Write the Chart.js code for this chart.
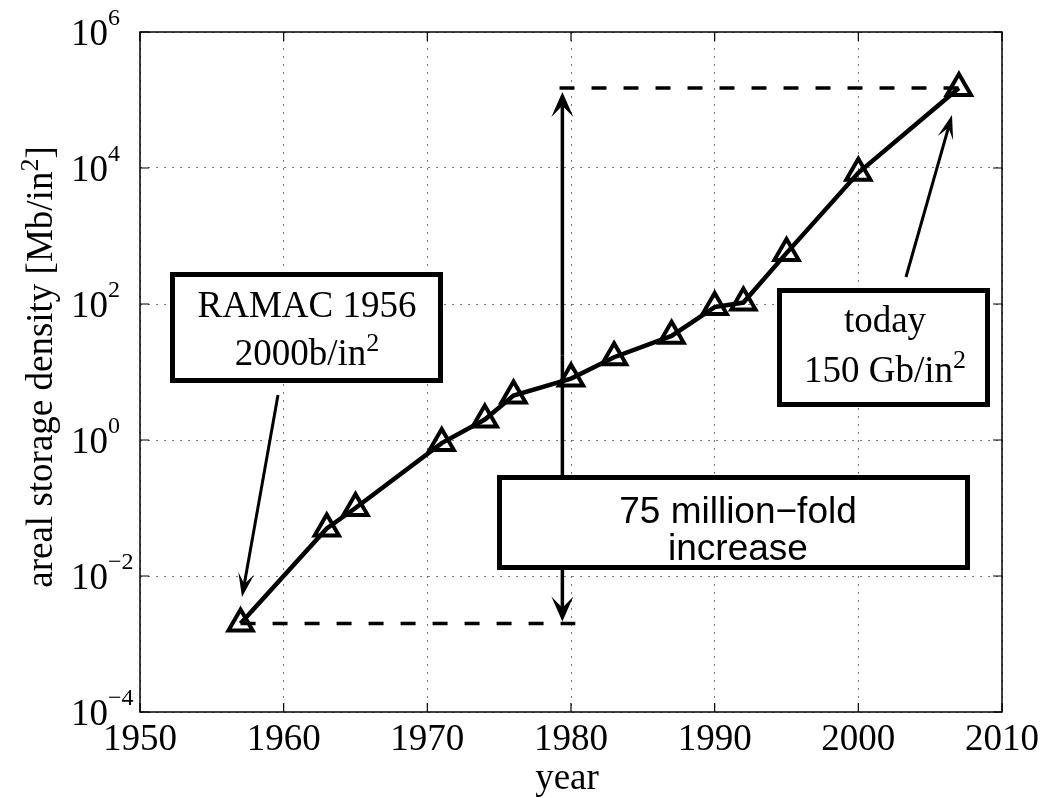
<!DOCTYPE html>
<html>
<head>
<meta charset="utf-8">
<title>Areal storage density</title>
<script src="https://cdn.jsdelivr.net/npm/chart.js@4.4.1/dist/chart.umd.min.js"></script>
<style>
    html, body { margin: 0; padding: 0; background: #fff; }
    #wrap { width: 1047px; height: 798px; }
</style>
</head>
<body>
<div id="wrap"><canvas id="densityChart" width="1047" height="798"></canvas></div>
<script>
// ============================================
// Areal storage density of hard disks, 1957 - 2007
// ============================================

// values (Mb/in^2)
const years = [1957, 1963, 1965, 1971, 1974, 1976, 1980, 1983, 1987, 1990, 1992, 1995, 2000, 2007];
const densities = [0.002, 0.05, 0.1, 0.9, 2, 4.5, 8, 16.5, 34, 90, 105, 560, 8500, 150000];

// axis ticks
const xTickValues = [1950, 1960, 1970, 1980, 1990, 2000, 2010];
const yTickExponents = [-4, -2, 0, 2, 4, 6];

// years where the "75 million-fold" span is drawn
const spanYear = 1979.4;
const lowDashEnd = 1980.3;
const highDashStart = 1979.2;

const SERIF = "'Liberation Serif', 'Times New Roman', serif";
const SANS = "'Liberation Sans', Arial, Helvetica, sans-serif";

// text with '^'-prefixed superscript parts
function richText(ctx, parts, x, y, o) {
    const main = `${o.size}px ${o.family}`;
    const sup = `${o.supSize}px ${o.family}`;
    let total = 0;
    const widths = parts.map(p => {
        ctx.font = p[0] === '^' ? sup : main;
        const w = ctx.measureText(p[0] === '^' ? p.slice(1) : p).width;
        total += w;
        return w;
    });
    let cx = o.align === 'left' ? x : x - total / 2;
    ctx.textAlign = 'left';
    ctx.textBaseline = 'alphabetic';
    ctx.fillStyle = '#000';
    parts.forEach((p, i) => {
        if (p[0] === '^') {
            ctx.font = sup;
            ctx.fillText(p.slice(1), cx, y - o.raise);
        } else {
            ctx.font = main;
            ctx.fillText(p, cx, y);
        }
        cx += widths[i];
    });
}

function arrow(ctx, x1, y1, x2, y2, lw, len, half) {
    const a = Math.atan2(y2 - y1, x2 - x1);
    ctx.save();
    ctx.strokeStyle = '#000';
    ctx.fillStyle = '#000';
    ctx.lineWidth = lw;
    ctx.beginPath();
    ctx.moveTo(x1, y1);
    ctx.lineTo(x2 - Math.cos(a) * len * 0.5, y2 - Math.sin(a) * len * 0.5);
    ctx.stroke();
    ctx.translate(x2, y2);
    ctx.rotate(a);
    ctx.beginPath();
    ctx.moveTo(0, 0);
    ctx.lineTo(-len, -half);
    ctx.lineTo(-len * 0.55, 0);
    ctx.lineTo(-len, half);
    ctx.closePath();
    ctx.fill();
    ctx.restore();
}

function textBox(ctx, b) {
    const lw = 5;
    ctx.save();
    ctx.fillStyle = '#fff';
    ctx.fillRect(b.x0, b.y0, b.x1 - b.x0, b.y1 - b.y0);
    ctx.lineWidth = lw;
    ctx.strokeStyle = '#000';
    ctx.strokeRect(b.x0 + lw / 2, b.y0 + lw / 2, b.x1 - b.x0 - lw, b.y1 - b.y0 - lw);
    b.lines.forEach(l => richText(ctx, l.parts, b.cx, l.y, b.font));
    ctx.restore();
}

const serifBoxFont = { family: SERIF, size: 37, supSize: 26, raise: 14 };
const sansBoxFont = { family: SANS, size: 37, supSize: 24, raise: 14 };

const annotations = {
    id: 'annotations',
    afterDatasetsDraw(chart) {
        const ctx = chart.ctx;
        const { x, y } = chart.scales;

        // double arrow spanning first to last value
        const ax = x.getPixelForValue(spanYear);
        const yLow = y.getPixelForValue(densities[0]);
        const yHigh = y.getPixelForValue(densities[densities.length - 1]);
        const yMid = (yLow + yHigh) / 2;
        arrow(ctx, ax, yMid, ax, yHigh + 4, 3.5, 25, 11);
        arrow(ctx, ax, yMid, ax, yLow - 2, 3.5, 25, 11);

        textBox(ctx, {
            x0: 497, y0: 475, x1: 970, y1: 570, cx: 738, font: sansBoxFont,
            lines: [{ y: 523, parts: ['75 million\u2212fold'] }, { y: 560, parts: ['increase'] }]
        });
        textBox(ctx, {
            x0: 170, y0: 272, x1: 443, y1: 383, cx: 307, font: serifBoxFont,
            lines: [{ y: 317, parts: ['RAMAC 1956'] }, { y: 365, parts: ['2000b/in', '^2'] }]
        });
        textBox(ctx, {
            x0: 777, y0: 288, x1: 990, y1: 407, cx: 885, font: serifBoxFont,
            lines: [{ y: 332, parts: ['today'] }, { y: 382, parts: ['150 Gb/in', '^2'] }]
        });

        arrow(ctx, 278, 395, 242, 597, 3, 24, 8);
        arrow(ctx, 906, 277, 952, 115, 3, 24, 8);
    },
    afterDraw(chart) {
        const ctx = chart.ctx;
        const ca = chart.chartArea;
        const { x, y } = chart.scales;
        ctx.save();

        // axes box
        ctx.strokeStyle = '#000';
        ctx.lineWidth = 1.5;
        ctx.strokeRect(ca.left, ca.top, ca.right - ca.left, ca.bottom - ca.top);

        // inward ticks on all four sides
        const tl = 9;
        ctx.lineWidth = 1.2;
        ctx.beginPath();
        xTickValues.forEach(v => {
            const px = x.getPixelForValue(v);
            ctx.moveTo(px, ca.bottom); ctx.lineTo(px, ca.bottom - tl);
            ctx.moveTo(px, ca.top); ctx.lineTo(px, ca.top + tl);
        });
        yTickExponents.forEach(e => {
            const py = y.getPixelForValue(Math.pow(10, e));
            ctx.moveTo(ca.left, py); ctx.lineTo(ca.left + tl, py);
            ctx.moveTo(ca.right, py); ctx.lineTo(ca.right - tl, py);
        });
        ctx.stroke();

        // y tick labels 10^n
        const tickFont = { family: SERIF, size: 37, supSize: 24, raise: 20, align: 'left' };
        yTickExponents.forEach(e => {
            const py = y.getPixelForValue(Math.pow(10, e));
            richText(ctx, ['10', '^' + String(e).replace('-', '\u2212')], 71, py + 13, tickFont);
        });

        // axis titles
        richText(ctx, ['year'], (ca.left + ca.right) / 2 - 4, 789, { family: SERIF, size: 37 });
        ctx.translate(52, (ca.top + ca.bottom) / 2 - 5);
        ctx.rotate(-Math.PI / 2);
        richText(ctx, ['areal storage density [Mb/in', '^2', ']'], 0, 0,
            { family: SERIF, size: 37, supSize: 26, raise: 14 });
        ctx.restore();
    }
};

function renderDensityChart() {
    const ctx = document.getElementById('densityChart');
    const points = years.map((yr, i) => ({ x: yr, y: densities[i] }));
    const first = points[0];
    const last = points[points.length - 1];

    new Chart(ctx, {
        type: 'line',
        data: {
            datasets: [{
                data: points,
                borderColor: '#000', borderWidth: 4.5, tension: 0,
                pointStyle: 'triangle', pointRadius: 14, pointBorderWidth: 4,
                pointBorderColor: '#000', pointBackgroundColor: 'rgba(0,0,0,0)',
            }, {
                data: [first, { x: lowDashEnd, y: first.y }],
                borderColor: '#000', borderWidth: 3.5, borderDash: [15, 17], pointRadius: 0,
            }, {
                data: [{ x: highDashStart, y: last.y }, last],
                borderColor: '#000', borderWidth: 3.5, borderDash: [15, 17], pointRadius: 0,
            }]
        },
        options: {
            responsive: false, animation: false, devicePixelRatio: 1,
            layout: { padding: { top: 32, right: 45, left: 0, bottom: 0 } },
            plugins: { legend: { display: false }, tooltip: { enabled: false } },
            scales: {
                x: {
                    type: 'linear', min: 1950, max: 2010,
                    afterBuildTicks: s => { s.ticks = xTickValues.map(v => ({ value: v })); },
                    afterFit: s => { s.height = 86; },
                    ticks: {
                        color: '#000', padding: 6, maxRotation: 0,
                        font: { family: SERIF, size: 37 },
                        callback: v => String(v),
                    },
                    grid: { color: '#777', lineWidth: 1, drawTicks: false },
                    border: { display: false, dash: [2, 6] },
                },
                y: {
                    type: 'logarithmic', min: 1e-4, max: 1e6,
                    afterBuildTicks: s => { s.ticks = yTickExponents.map(e => ({ value: Math.pow(10, e), major: true })); },
                    afterFit: s => { s.width = 140; },
                    ticks: { display: false },
                    grid: { color: '#777', lineWidth: 1, drawTicks: false },
                    border: { display: false, dash: [2, 6] },
                }
            }
        },
        plugins: [annotations]
    });
}

renderDensityChart();
</script>
</body>
</html>
